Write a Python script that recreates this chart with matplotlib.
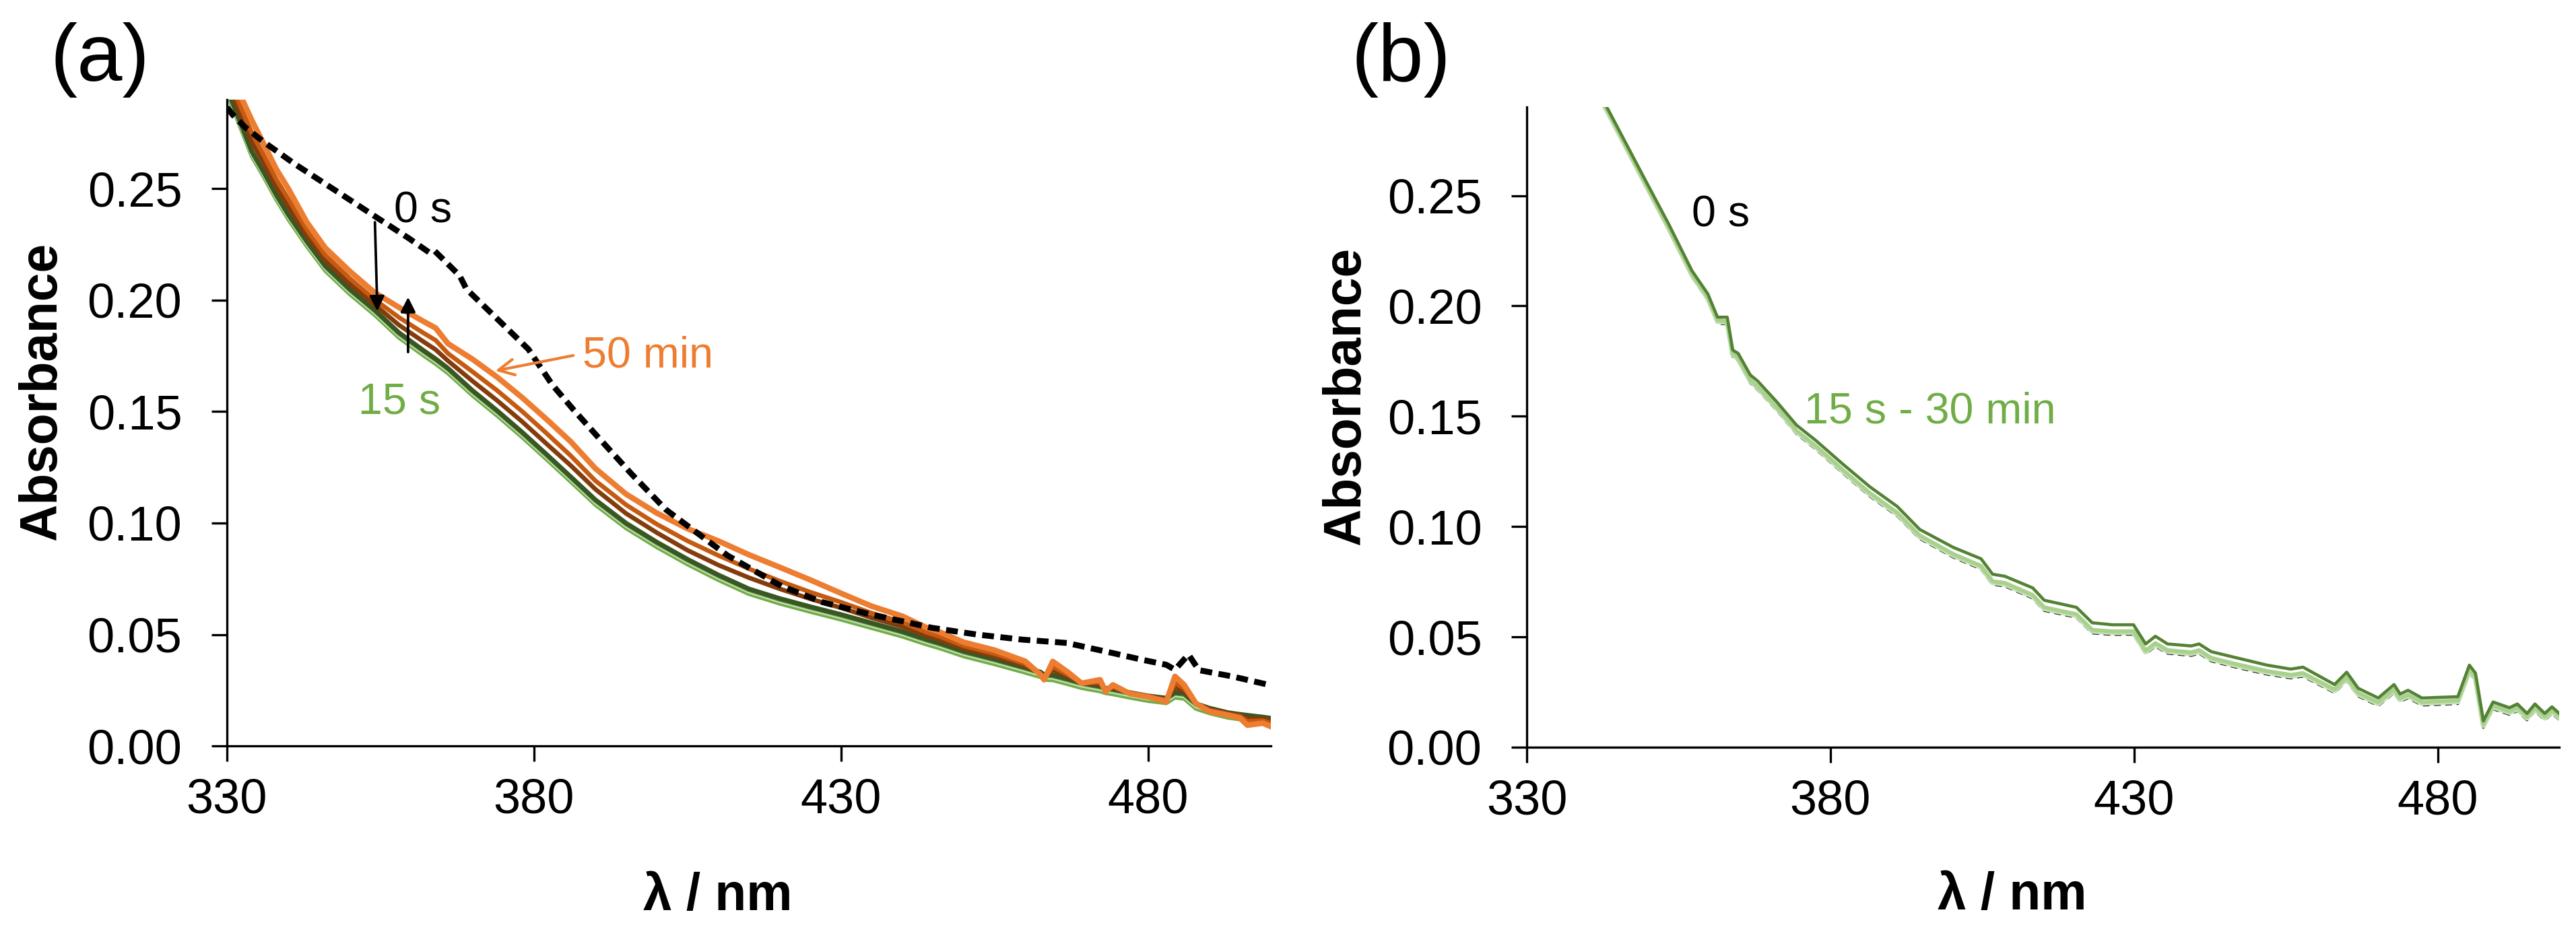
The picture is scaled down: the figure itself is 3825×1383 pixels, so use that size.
import numpy as np
import matplotlib.pyplot as plt

plt.rcParams['font.family'] = ['Liberation Sans', 'DejaVu Sans']

# ---------------- panel (a) data ----------------
wl_a = [330, 332, 334, 336, 338, 340, 343, 346, 350, 354, 358, 362, 364, 366, 370,
        374, 378, 382, 386, 390, 395, 400, 405, 410, 415, 420, 425, 430, 435, 440,
        444, 446, 450, 455, 460, 462.5, 463.1, 464.5, 467, 469.2, 472.2, 473.1, 474.3,
        477, 480, 483, 484.4, 485.9, 487.8, 490, 493, 495, 496.2, 498.7, 500]

a_50min = [0.305, 0.293, 0.281, 0.270, 0.259, 0.250, 0.235, 0.2235, 0.213, 0.2035, 0.1968,
           0.1905, 0.1875, 0.1805, 0.1735, 0.1655, 0.1565, 0.1467, 0.1365, 0.1245, 0.113,
           0.1045, 0.0975, 0.092, 0.0858, 0.0802, 0.0745, 0.0685, 0.0627, 0.0582, 0.053,
           0.0512, 0.0465, 0.043, 0.038, 0.032, 0.0297, 0.0379, 0.033, 0.0281, 0.0297,
           0.0244, 0.0274, 0.0235, 0.022, 0.0199, 0.0312, 0.0274, 0.0191, 0.0154, 0.0138,
           0.0125, 0.0093, 0.0102, 0.0087]
a_brown = [0.301, 0.2882, 0.2754, 0.265, 0.2544, 0.2454, 0.2316, 0.2203, 0.2098, 0.2004,
           0.1923, 0.1853, 0.182, 0.1761, 0.1679, 0.1595, 0.1503, 0.1404, 0.1302, 0.1190,
           0.1082, 0.0995, 0.092, 0.0855, 0.0795, 0.0740, 0.0690, 0.0645, 0.0596, 0.0555,
           0.0509, 0.0492, 0.0449, 0.0414, 0.0369, 0.0322, 0.030, 0.0355, 0.032, 0.0282,
           0.0286, 0.025, 0.0266, 0.0237, 0.0222, 0.0205, 0.0283, 0.0258, 0.0191, 0.016,
           0.0143, 0.0132, 0.0111, 0.0113, 0.0102]
a_dbrown = [0.298, 0.2846, 0.2712, 0.2613, 0.251, 0.242, 0.229, 0.2179, 0.2074, 0.1981,
            0.1889, 0.1814, 0.1778, 0.1728, 0.1637, 0.155, 0.1457, 0.1357, 0.1258, 0.1152,
            0.1043, 0.0957, 0.0878, 0.0812, 0.0755, 0.0705, 0.0660, 0.0620, 0.0575, 0.0535,
            0.0494, 0.0477, 0.0437, 0.0402, 0.036, 0.0325, 0.0305, 0.034, 0.0312, 0.0283,
            0.0277, 0.0255, 0.0261, 0.0238, 0.0223, 0.021, 0.0262, 0.0247, 0.019, 0.0165,
            0.0146, 0.0137, 0.0125, 0.0122, 0.0114]
a_dgreen = [0.295, 0.281, 0.267, 0.2575, 0.2475, 0.2385, 0.2265, 0.2155, 0.205, 0.1958,
            0.1855, 0.1775, 0.1737, 0.1695, 0.1595, 0.1505, 0.141, 0.131, 0.1208, 0.1105,
            0.1000, 0.0915, 0.0838, 0.0768, 0.0705, 0.0662, 0.0625, 0.0590, 0.0552, 0.0514,
            0.0478, 0.0462, 0.0425, 0.039, 0.0352, 0.0332, 0.032, 0.0318, 0.030, 0.0283,
            0.0268, 0.026, 0.0255, 0.024, 0.0225, 0.0215, 0.024, 0.0235, 0.019, 0.017,
            0.015, 0.0142, 0.0138, 0.013, 0.0125]
a_mgreen = [0.2944, 0.2804, 0.2664, 0.2569, 0.2469, 0.2379, 0.2259, 0.2149, 0.2044, 0.1952,
            0.1849, 0.1769, 0.1731, 0.1689, 0.1589, 0.1499, 0.1404, 0.1304, 0.1202, 0.1099,
            0.0994, 0.0909, 0.0832, 0.0762, 0.0699, 0.0656, 0.0619, 0.0584, 0.0546, 0.0508,
            0.0472, 0.0456, 0.0419, 0.0384, 0.0346, 0.0326, 0.0314, 0.0312, 0.0294, 0.0277,
            0.0262, 0.0254, 0.0249, 0.0234, 0.0219, 0.0209, 0.0234, 0.0229, 0.0184, 0.0164,
            0.0144, 0.0136, 0.0132, 0.0124, 0.0119]
a_lgreen = [0.2937, 0.2797, 0.2657, 0.2562, 0.2462, 0.2372, 0.2252, 0.2142, 0.2037, 0.1945,
            0.1842, 0.1762, 0.1724, 0.1682, 0.1582, 0.1492, 0.1397, 0.1297, 0.1195, 0.1092,
            0.0987, 0.0902, 0.0825, 0.0755, 0.0692, 0.0649, 0.0612, 0.0577, 0.0539, 0.0501,
            0.0465, 0.0449, 0.0412, 0.0377, 0.0339, 0.0319, 0.0307, 0.0305, 0.0287, 0.027,
            0.0255, 0.0247, 0.0242, 0.0227, 0.0212, 0.0202, 0.0227, 0.0222, 0.0177, 0.0157,
            0.0137, 0.0129, 0.0125, 0.0117, 0.0112]
a_15s = [0.2926, 0.2786, 0.2646, 0.2551, 0.2451, 0.2361, 0.2241, 0.2131, 0.2026, 0.1934,
         0.1831, 0.1751, 0.1713, 0.1671, 0.1571, 0.1481, 0.1386, 0.1286, 0.1184, 0.1081,
         0.0976, 0.0891, 0.0814, 0.0744, 0.0681, 0.0638, 0.0601, 0.0566, 0.0528, 0.0490,
         0.0454, 0.0438, 0.0401, 0.0366, 0.0328, 0.0308, 0.0296, 0.0294, 0.0276, 0.0259,
         0.0244, 0.0236, 0.0231, 0.0216, 0.0201, 0.0191, 0.0216, 0.0211, 0.0166, 0.0146,
         0.0126, 0.0118, 0.0114, 0.0106, 0.0101]

wl_a0 = [330, 331, 333, 336, 341.1, 347.8, 353.9, 359.5, 362.9, 363.8, 367.9, 369.0, 373.5,
         379.1, 383.0, 386.4, 390.3, 395.9, 401.5, 407.1, 411.5, 420.3, 427, 434.8, 439.9,
         444.8, 452.1, 459.5, 466.8, 474.2, 479.0, 483.0, 484.4, 486.6, 488.3, 493.7, 500]
a_0s = [0.2865, 0.2830, 0.2775, 0.2710, 0.261, 0.249, 0.238, 0.228, 0.2215, 0.2222, 0.211,
        0.205, 0.193, 0.178, 0.162, 0.151, 0.139, 0.122, 0.106, 0.0945, 0.0855, 0.0717,
        0.0645, 0.0590, 0.056, 0.053, 0.050, 0.0477, 0.0462, 0.0417, 0.0387, 0.0364,
        0.0342, 0.041, 0.034, 0.0312, 0.0272]

# ---------------- panel (b) data ----------------
wl_b = [340, 343.2, 349.0, 353.4, 357.2, 359.8, 361.4, 363.0, 363.9, 364.8, 366.8, 368.0,
        371.2, 374.4, 377.6, 382.0, 386.5, 391.0, 394.7, 400.2, 404.8, 406.7, 408.7, 413.3,
        415.2, 420.5, 423.1, 426.4, 429.9, 431.9, 433.5, 435.5, 439.4, 440.7, 442.7, 446.6,
        451.9, 455.8, 457.8, 463.0, 465.0, 466.9, 470.2, 472.8, 473.8, 475.1, 477.4, 483.3,
        485.2, 486.2, 487.5, 489.1, 491.8, 493.1, 494.7, 496.0, 497.6, 498.8, 500.0]
b_dark = [0.305, 0.290, 0.2597, 0.2369, 0.2159, 0.2055, 0.1949, 0.1949, 0.180, 0.1785,
          0.1687, 0.166, 0.1564, 0.146, 0.139, 0.1284, 0.118, 0.1091, 0.0987, 0.0906,
          0.0854, 0.0784, 0.0775, 0.0722, 0.0666, 0.0634, 0.0564, 0.0555, 0.0555, 0.0468,
          0.0503, 0.0468, 0.0459, 0.0468, 0.0433, 0.0407, 0.0372, 0.0354, 0.0363, 0.0284,
          0.034, 0.0267, 0.0223, 0.0284, 0.0241, 0.0258, 0.0223, 0.0229, 0.0372, 0.0336,
          0.0119, 0.0205, 0.0179, 0.0196, 0.0153, 0.0196, 0.0153, 0.0183, 0.0153]
b_light = [0.304, 0.289, 0.2585, 0.2355, 0.2145, 0.204, 0.1935, 0.193, 0.1785, 0.1765,
           0.1665, 0.1635, 0.154, 0.1435, 0.1365, 0.1258, 0.1152, 0.1063, 0.0960, 0.0876,
           0.0822, 0.0752, 0.0745, 0.0690, 0.0634, 0.0603, 0.0532, 0.0525, 0.0526, 0.0438,
           0.0472, 0.0440, 0.0430, 0.0440, 0.0405, 0.0378, 0.0345, 0.0328, 0.0336, 0.0262,
           0.0318, 0.0246, 0.0203, 0.0262, 0.0222, 0.0238, 0.0205, 0.0212, 0.0352, 0.0318,
           0.0103, 0.0188, 0.0163, 0.0180, 0.0138, 0.0180, 0.0138, 0.0168, 0.0140]
b_pale = [0.3035, 0.2885, 0.258, 0.235, 0.214, 0.2035, 0.193, 0.1925, 0.178, 0.176,
          0.166, 0.163, 0.1535, 0.143, 0.136, 0.1252, 0.1146, 0.1057, 0.0954, 0.087,
          0.0816, 0.0746, 0.0739, 0.0684, 0.0628, 0.0597, 0.0526, 0.0519, 0.052, 0.0432,
          0.0466, 0.0434, 0.0424, 0.0434, 0.0399, 0.0372, 0.0339, 0.0322, 0.033, 0.0256,
          0.0312, 0.024, 0.0197, 0.0256, 0.0216, 0.0232, 0.0199, 0.0206, 0.0346, 0.0312,
          0.0098, 0.0182, 0.0157, 0.0174, 0.0132, 0.0174, 0.0132, 0.0162, 0.0134]
b_0s = [0.303, 0.288, 0.2575, 0.2345, 0.2133, 0.2028, 0.1922, 0.1918, 0.1772, 0.1752,
        0.1652, 0.1622, 0.1527, 0.1422, 0.1352, 0.1244, 0.1138, 0.1049, 0.0946, 0.0862,
        0.0808, 0.0738, 0.0731, 0.0676, 0.062, 0.0589, 0.0518, 0.0511, 0.0512, 0.0424,
        0.0458, 0.0426, 0.0416, 0.0426, 0.0391, 0.0364, 0.0331, 0.0314, 0.0322, 0.0248,
        0.0304, 0.0232, 0.0189, 0.0248, 0.0208, 0.0224, 0.0191, 0.0198, 0.0338, 0.0304,
        0.009, 0.0174, 0.0149, 0.0166, 0.0124, 0.0166, 0.0124, 0.0154, 0.0126]

xticks = [330, 380, 430, 480]
yticks = [0.00, 0.05, 0.10, 0.15, 0.20, 0.25]

orange = '#ed7d31'
green = '#70ad47'
lab_size = 17.3
ann_size = 15.5

fig = plt.figure(figsize=(12.75, 4.61), dpi=300)
ax1 = fig.add_axes([0.0881, 0.1988, 0.4052, 0.6942])
ax2 = fig.add_axes([0.5927, 0.1974, 0.4008, 0.6873])

for ax in (ax1, ax2):
    ax.set_xlim(330, 500)
    ax.set_ylim(0, 0.29)
    ax.set_xticks(xticks)
    ax.set_yticks(yticks)
    ax.set_yticklabels([f"{v:.2f}" for v in yticks])
    ax.spines['top'].set_visible(False)
    ax.spines['right'].set_visible(False)
    ax.spines['left'].set_linewidth(0.8)
    ax.spines['bottom'].set_linewidth(0.8)
    ax.tick_params(direction='out', length=5.5, width=0.8, labelsize=lab_size)
    ax.tick_params(axis='y', pad=10.5)
    ax.tick_params(axis='x', pad=6)
    ax.text(0.47, -0.254, "λ / nm", transform=ax.transAxes, ha='center',
            va='baseline', fontsize=18.4, fontweight='bold')

ax1.text(-0.1639, 0.548, "Absorbance", transform=ax1.transAxes, rotation=90,
         rotation_mode='anchor', ha='center', va='baseline', fontsize=18.4,
         fontweight='bold')
ax2.text(-0.1618, 0.549, "Absorbance", transform=ax2.transAxes, rotation=90,
         rotation_mode='anchor', ha='center', va='baseline', fontsize=18.4,
         fontweight='bold')

# panel (a) curves
ax1.plot(wl_a, a_15s, color='#70ad47', lw=1.3)
ax1.plot(wl_a, a_lgreen, color='#c5e0b4', lw=1.3)
ax1.plot(wl_a, a_mgreen, color='#548235', lw=1.3)
ax1.plot(wl_a, a_dgreen, color='#385723', lw=1.6)
ax1.plot(wl_a, a_dbrown, color='#843c0c', lw=1.6)
ax1.plot(wl_a, a_brown, color='#c55a11', lw=1.6)
ax1.plot(wl_a, a_50min, color=orange, lw=2.0)
ax1.plot(wl_a0, a_0s, color='black', lw=2.1, ls=(0, (2.0, 1.1)))

ax1.text(357.2, 0.235, "0 s", fontsize=ann_size, color='black')
ax1.text(351.4, 0.149, "15 s", fontsize=ann_size, color=green)
ax1.text(387.9, 0.1698, "50 min", fontsize=ann_size, color=orange)
ax1.annotate('', xy=(373.7, 0.1683), xytext=(386.4, 0.1752),
             arrowprops=dict(arrowstyle='->', color=orange, lw=1.0,
                             shrinkA=0, shrinkB=0, mutation_scale=14))
ax1.annotate('', xy=(354.5, 0.1951), xytext=(354.1, 0.235),
             arrowprops=dict(arrowstyle='-|>', color='black', lw=0.9,
                             shrinkA=0, shrinkB=0, mutation_scale=11))
ax1.annotate('', xy=(359.5, 0.2014), xytext=(359.5, 0.1767),
             arrowprops=dict(arrowstyle='-|>', color='black', lw=0.9,
                             shrinkA=0, shrinkB=0, mutation_scale=11))

# panel (b) curves
ax2.plot(wl_b, b_0s, color='black', lw=1.0, ls=(0, (2.4, 1.6)))
ax2.plot(wl_b, b_pale, color='#c5e0b4', lw=1.8)
ax2.plot(wl_b, b_light, color='#a9d18e', lw=1.4)
ax2.plot(wl_b, b_dark, color='#548235', lw=1.1)

ax2.text(357.2, 0.236, "0 s", fontsize=ann_size, color='black')
ax2.text(375.7, 0.1468, "15 s - 30 min", fontsize=ann_size, color=green)

fig.text(0.0196, 0.9132, "(a)", fontsize=29, ha='left', va='baseline')
fig.text(0.5247, 0.9132, "(b)", fontsize=29, ha='left', va='baseline')

fig.savefig('out.png', dpi=300)
